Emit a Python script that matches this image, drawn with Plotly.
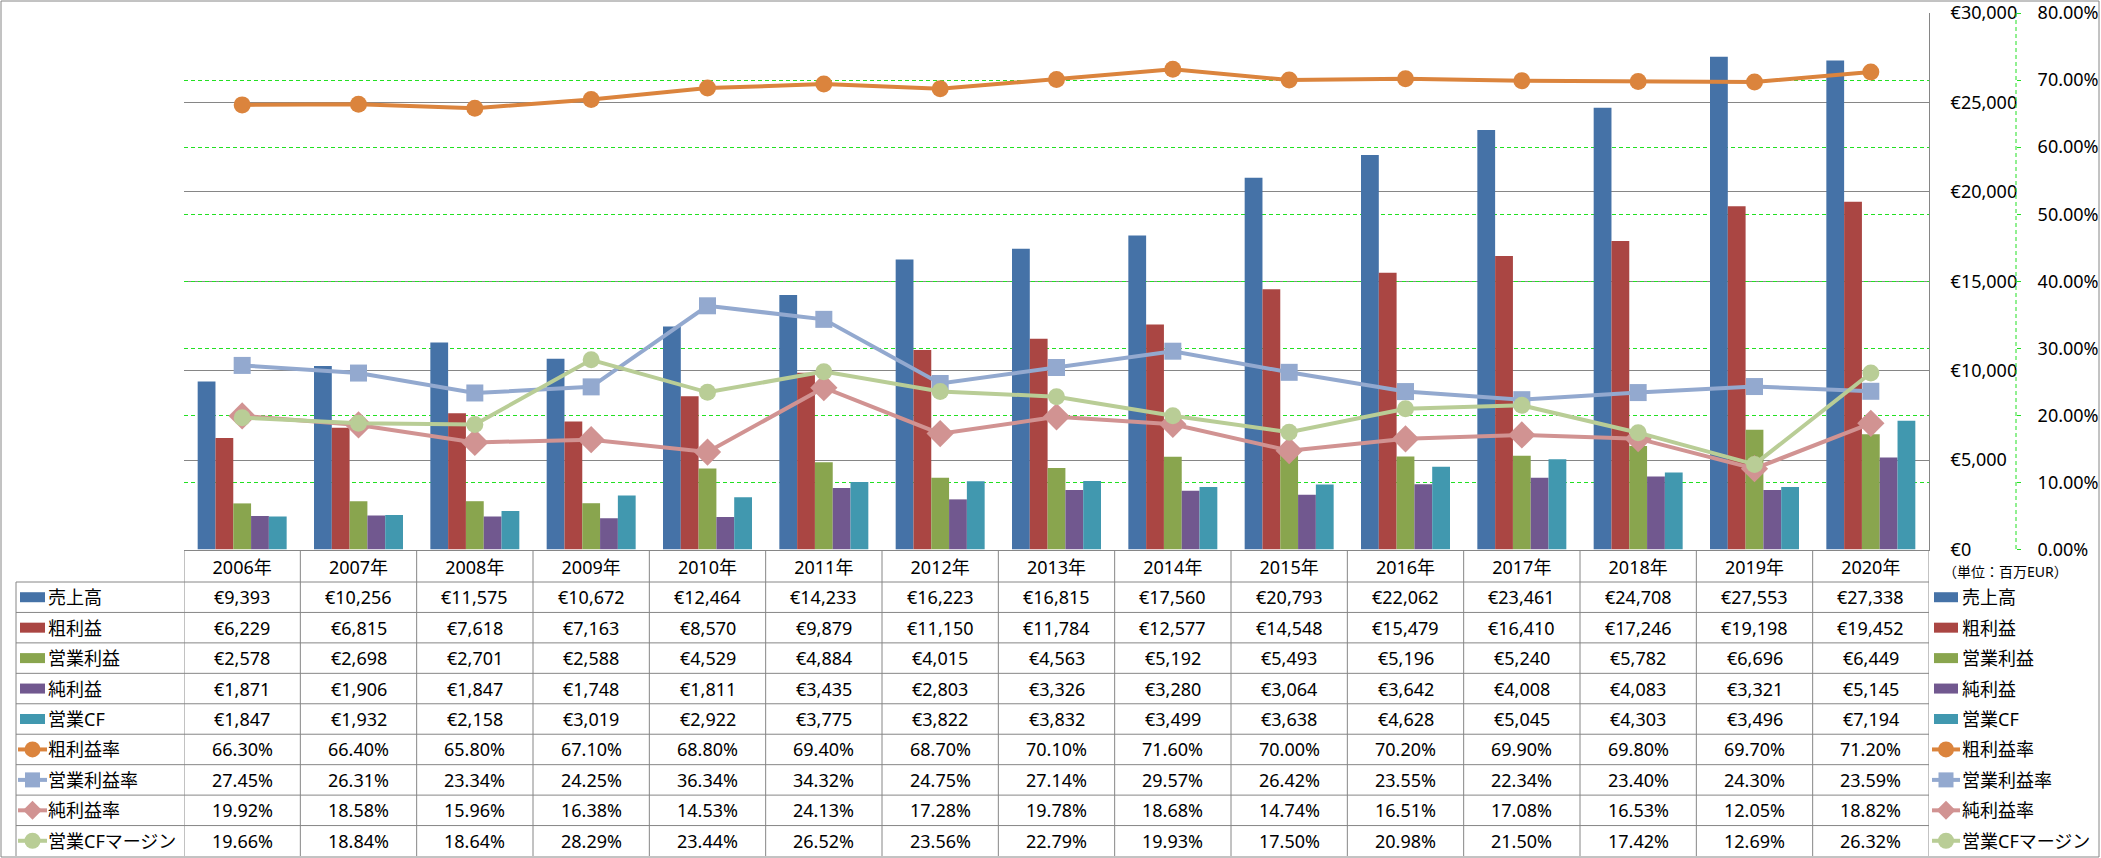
import plotly.graph_objects as go

W, H = 2101, 858

years = ["2006年", "2007年", "2008年", "2009年", "2010年", "2011年", "2012年", "2013年",
         "2014年", "2015年", "2016年", "2017年", "2018年", "2019年", "2020年"]
sales = [9393, 10256, 11575, 10672, 12464, 14233, 16223, 16815, 17560, 20793, 22062, 23461, 24708, 27553, 27338]
gross_profit = [6229, 6815, 7618, 7163, 8570, 9879, 11150, 11784, 12577, 14548, 15479, 16410, 17246, 19198, 19452]
op_income = [2578, 2698, 2701, 2588, 4529, 4884, 4015, 4563, 5192, 5493, 5196, 5240, 5782, 6696, 6449]
net_income = [1871, 1906, 1847, 1748, 1811, 3435, 2803, 3326, 3280, 3064, 3642, 4008, 4083, 3321, 5145]
op_cf = [1847, 1932, 2158, 3019, 2922, 3775, 3822, 3832, 3499, 3638, 4628, 5045, 4303, 3496, 7194]
gross_margin = [66.30, 66.40, 65.80, 67.10, 68.80, 69.40, 68.70, 70.10, 71.60, 70.00, 70.20, 69.90, 69.80, 69.70, 71.20]
op_margin = [27.45, 26.31, 23.34, 24.25, 36.34, 34.32, 24.75, 27.14, 29.57, 26.42, 23.55, 22.34, 23.40, 24.30, 23.59]
net_margin = [19.92, 18.58, 15.96, 16.38, 14.53, 24.13, 17.28, 19.78, 18.68, 14.74, 16.51, 17.08, 16.53, 12.05, 18.82]
cf_margin = [19.66, 18.84, 18.64, 28.29, 23.44, 26.52, 23.56, 22.79, 19.93, 17.50, 20.98, 21.50, 17.42, 12.69, 26.32]

eur_ticks = [0, 5000, 10000, 15000, 20000, 25000, 30000]
pct_ticks = [0, 10, 20, 30, 40, 50, 60, 70, 80]

bar_names = ["売上高", "粗利益", "営業利益", "純利益", "営業CF"]
bar_values = [sales, gross_profit, op_income, net_income, op_cf]
bar_colors = ["#4572A7", "#AA4643", "#89A54E", "#71588F", "#4198AF"]

line_names = ["粗利益率", "営業利益率", "純利益率", "営業CFマージン"]
line_values = [gross_margin, op_margin, net_margin, cf_margin]
line_colors = ["#DB843D", "#93A9CF", "#D19392", "#B9CD96"]
line_symbols = ["circle", "square", "diamond", "circle"]
line_msizes = [17, 17, 21, 17]

FONT = "Noto Sans, Noto Sans CJK JP, sans-serif"
GRAY = "#868686"
GREEN = "#22E022"
DASH = "4px,3px"


def px(x):
    return x / W


def py(y):
    return 1 - y / H


PLOT_L, PLOT_R, PLOT_T, PLOT_B = 184, 1929, 13, 549.5

fig = go.Figure()

for name, vals, col in zip(bar_names, bar_values, bar_colors):
    fig.add_trace(go.Bar(x=years, y=vals, name=name, marker=dict(color=col, line=dict(width=0)),
                         xaxis="x", yaxis="y"))

for name, vals, col, sym, ms in zip(line_names, line_values, line_colors, line_symbols, line_msizes):
    fig.add_trace(go.Scatter(x=years, y=vals, name=name, mode="lines+markers",
                             line=dict(color=col, width=4),
                             marker=dict(color=col, symbol=sym, size=ms, line=dict(width=0)),
                             xaxis="x", yaxis="y2"))

shapes = []
annotations = []

row_top = 582
row_h = (856 - 582) / 9
row_labels = bar_names + line_names
row_data = bar_values + line_values

# horizontal table lines
for i in range(9):
    yy = row_top + i * row_h
    shapes.append(dict(type="line", xref="paper", yref="paper", x0=px(16), x1=px(PLOT_R),
                       y0=py(yy), y1=py(yy), line=dict(color=GRAY, width=1)))
# vertical lines at category boundaries
for k in range(len(years) + 1):
    shapes.append(dict(type="line", xref="x", yref="paper", x0=k - 0.5, x1=k - 0.5,
                       y0=py(550), y1=py(856), line=dict(color=GRAY, width=1)))
shapes.append(dict(type="line", xref="paper", yref="paper", x0=px(16), x1=px(16),
                   y0=py(582), y1=py(856), line=dict(color=GRAY, width=1)))

# table values
for r, (label, vals) in enumerate(zip(row_labels, row_data)):
    yc = row_top + (r + 0.5) * row_h
    for i, v in enumerate(vals):
        txt = f"€{v:,}" if r < 5 else f"{v:.2f}%"
        annotations.append(dict(x=years[i], xref="x", y=py(yc), yref="paper", text=txt,
                                showarrow=False, xanchor="center", yanchor="middle",
                                font=dict(size=18, color="#000000", family=FONT)))


def legend_key(r, xk0, xk1, tx):
    yc = row_top + (r + 0.5) * row_h
    if r < 5:
        shapes.append(dict(type="rect", xref="paper", yref="paper", x0=px(xk0), x1=px(xk1),
                           y0=py(yc + 5), y1=py(yc - 5), fillcolor=bar_colors[r], line=dict(width=0)))
    else:
        j = r - 5
        col = line_colors[j]
        shapes.append(dict(type="line", xref="paper", yref="paper", x0=px(xk0 - 2), x1=px(xk1 + 2),
                           y0=py(yc), y1=py(yc), line=dict(color=col, width=4)))
        cx = (xk0 + xk1) / 2
        s = line_symbols[j]
        if s == "circle":
            shapes.append(dict(type="circle", xref="paper", yref="paper", x0=px(cx - 8), x1=px(cx + 8),
                               y0=py(yc + 8), y1=py(yc - 8), fillcolor=col, line=dict(width=0)))
        elif s == "square":
            shapes.append(dict(type="rect", xref="paper", yref="paper", x0=px(cx - 7.5), x1=px(cx + 7.5),
                               y0=py(yc + 7.5), y1=py(yc - 7.5), fillcolor=col, line=dict(width=0)))
        else:
            d = 9.5
            path = (f"M {px(cx - d)} {py(yc)} L {px(cx)} {py(yc - d)} L {px(cx + d)} {py(yc)} "
                    f"L {px(cx)} {py(yc + d)} Z")
            shapes.append(dict(type="path", xref="paper", yref="paper", path=path,
                               fillcolor=col, line=dict(width=0)))
    annotations.append(dict(x=px(tx), xref="paper", y=py(yc), yref="paper", text=row_labels[r],
                            showarrow=False, xanchor="left", yanchor="middle",
                            font=dict(size=18, color="#000000", family=FONT)))


for r in range(9):
    legend_key(r, 20, 45, 46)
    legend_key(r, 1934, 1958, 1960)

# unit label
annotations.append(dict(x=px(1941), xref="paper", y=py(571), yref="paper", text="（単位：百万EUR）",
                        showarrow=False, xanchor="left", yanchor="middle",
                        font=dict(size=14, color="#000000", family=FONT)))

# secondary axis dashed line
shapes.append(dict(type="line", xref="paper", yref="paper", x0=px(2016), x1=px(2016),
                   y0=py(PLOT_T), y1=py(PLOT_B), line=dict(color=GREEN, width=1, dash=DASH)))

# outer border
shapes.append(dict(type="rect", xref="paper", yref="paper", x0=px(1), x1=px(2099),
                   y0=py(857), y1=py(1), line=dict(color=GRAY, width=1), fillcolor="rgba(0,0,0,0)",
                   layer="above"))

fig.update_layout(
    width=W, height=H,
    margin=dict(l=0, r=0, t=0, b=0),
    paper_bgcolor="white", plot_bgcolor="white",
    showlegend=False,
    barmode="group", bargap=0.235, bargroupgap=0,
    font=dict(family=FONT, size=18, color="#000000"),
    xaxis=dict(domain=[px(PLOT_L), px(PLOT_R)], type="category", range=[-0.5, len(years) - 0.5],
               showline=True, linecolor=GRAY, linewidth=1, ticks="", showgrid=False,
               tickfont=dict(size=18, color="#000000"), automargin=False, ticklabelstandoff=2),
    yaxis=dict(domain=[py(PLOT_B), py(PLOT_T)], range=[0, 30000], tickmode="array",
               tickvals=eur_ticks, ticktext=[f"€{v:,}" for v in eur_ticks],
               side="right", anchor="x",
               showline=True, linecolor=GRAY, linewidth=1, ticks="",
               showgrid=True, gridcolor=GRAY, gridwidth=1, zeroline=False,
               tickfont=dict(size=18, color="#000000"), automargin=False, ticklabelstandoff=17),
    yaxis2=dict(range=[0, 80], tickmode="array", tickvals=pct_ticks,
                ticktext=[f"{v:.2f}%" for v in pct_ticks],
                overlaying="y", side="right", anchor="free", position=px(2016),
                showline=False, ticks="outside", ticklen=4, tickcolor=GREEN,
                showgrid=True, gridcolor=GREEN, gridwidth=1, griddash=DASH, zeroline=False,
                tickfont=dict(size=18, color="#000000"), automargin=False, ticklabelstandoff=13),
    shapes=shapes,
    annotations=annotations,
)

fig.write_html("out.html", config={"displayModeBar": False},
               post_script="document.body.style.margin='0';document.body.style.overflow='hidden';")
